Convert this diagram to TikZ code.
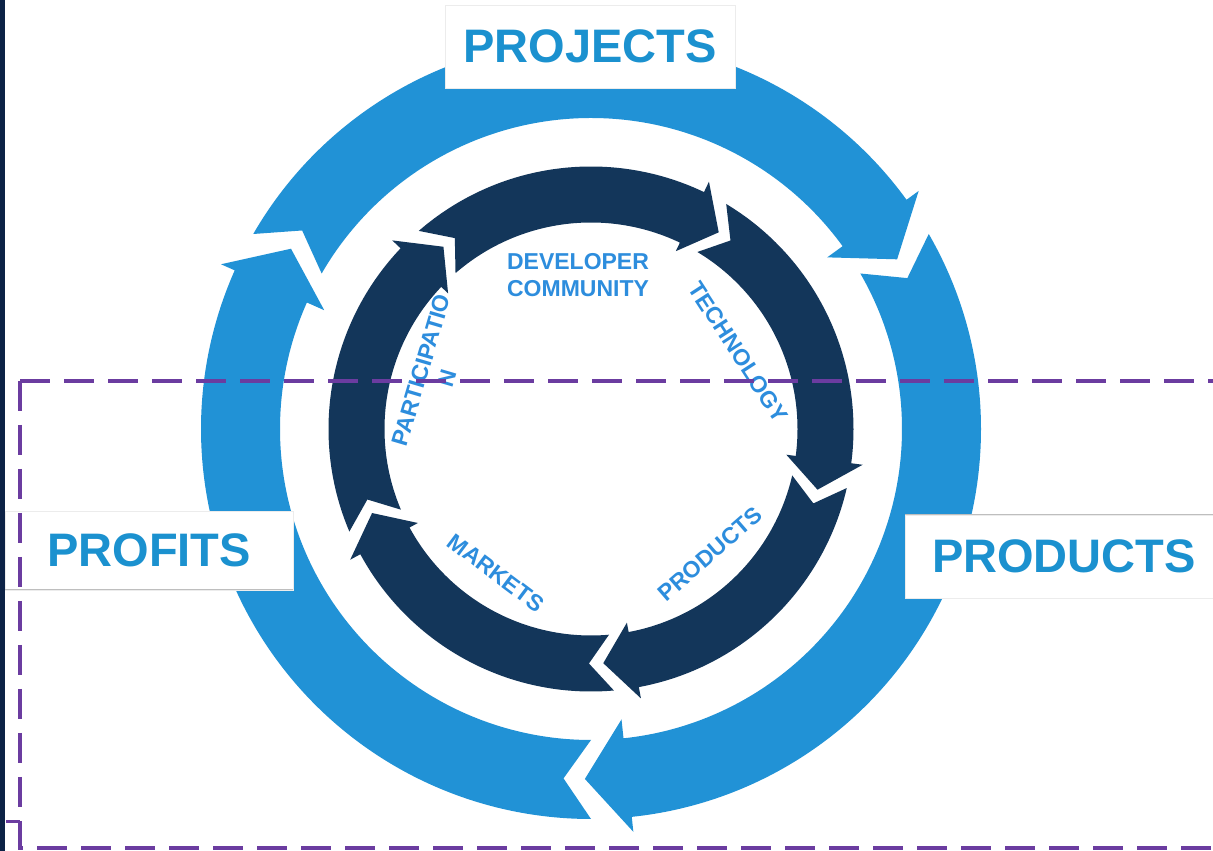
\documentclass[tikz,border=0pt]{standalone}
\usepackage{fontspec}
\setmainfont{Liberation Sans}
\begin{document}
\begin{tikzpicture}[x=1pt,y=1pt]
\definecolor{ringblue}{RGB}{33,146,214}
\definecolor{ringnavy}{RGB}{19,54,90}
\definecolor{labblue}{RGB}{45,141,221}
\definecolor{bigblue}{RGB}{27,145,207}
\definecolor{leftbar}{RGB}{12,34,70}
\definecolor{dashpurple}{RGB}{107,60,160}
\definecolor{boxline}{RGB}{190,190,190}
\definecolor{boxfaint}{RGB}{236,236,236}
\tikzset{
  bigbox/.style={fill=white, draw=boxfaint, line width=0.8pt, inner sep=0pt, text=bigblue,
    font=\bfseries\fontsize{47}{56}\selectfont},
  innerlab/.style={text=labblue, inner sep=0pt, align=center,
    font=\bfseries\fontsize{23}{27}\selectfont},
  dashline/.style={draw=dashpurple, line width=3.5pt, dash pattern=on 30pt off 14pt}
}
\useasboundingbox (0,0) rectangle (1213,851);
\clip (0,0) rectangle (1213,851);
\fill[white] (0,0) rectangle (1213,851);
\fill[leftbar] (0,0) rectangle (5,851);

\begin{scope}[shift={(591,422)}]
  % outer light-blue ring: three arrows
  \foreach \T/\B in {150/36, 30/-84, -90/-204} {
    \fill[ringblue] (\T:390pt) arc[start angle=\T, end angle=\B, radius=390pt]
      -- (\B:405pt) -- ({\B-7}:350pt) -- (\B:292pt) -- (\B:311pt)
      arc[start angle=\B, end angle=\T, radius=311pt]
      -- ({\T-4.5}:350.5pt) -- cycle;
  }
  % inner navy ring: five arrows
  \foreach \T/\B in {131/64.5, 59/-7.5, -13/-79.5, -85/-151.5, -157/-223.5} {
    \fill[ringnavy] (\T:262.5pt) arc[start angle=\T, end angle=\B, radius=262.5pt]
      -- (\B:274pt) -- ({\B-7.5}:234.5pt) -- (\B:197pt) -- (\B:206.5pt)
      arc[start angle=\B, end angle=\T, radius=206.5pt]
      -- ({\T-5.5}:234.5pt) -- cycle;
  }
\end{scope}

% big label boxes
\node[bigbox, minimum width=290pt, minimum height=83pt] (projects) at (590,804.5) {PROJECTS};
\node[bigbox, minimum width=288pt, minimum height=79pt] (profits) at (149,300.5) {PROFITS};
\node[bigbox, minimum width=320pt, minimum height=83pt, text width=320pt, align=left] (products) at (1065,294.5) {\hspace*{27pt}PRODUCTS};
\draw[boxline, line width=1pt] (5,261) -- (293,261);
\draw[boxline, line width=1pt] (905,336) -- (1213,336);

% inner labels
\node[innerlab] (devcom) at (578,576) {DEVELOPER\\COMMUNITY};
\node[innerlab, rotate=-57] (tech) at (738,499) {TECHNOLOGY};
\node[innerlab, rotate=41] (prodin) at (710,297) {PRODUCTS};
\node[innerlab, rotate=-37] (markets) at (496,278) {MARKETS};
\node[innerlab, rotate=73.6] (partic) at (434,477) {PARTICIPATIO\\N};

% dashed purple frame
\draw[dashline] (20,470) -- (1230,470);
\draw[dashline] (20,470) -- (20,3) -- (1230,3);
\draw[draw=dashpurple, line width=3pt] (6,29) -- (20,29);
\end{tikzpicture}
\end{document}
